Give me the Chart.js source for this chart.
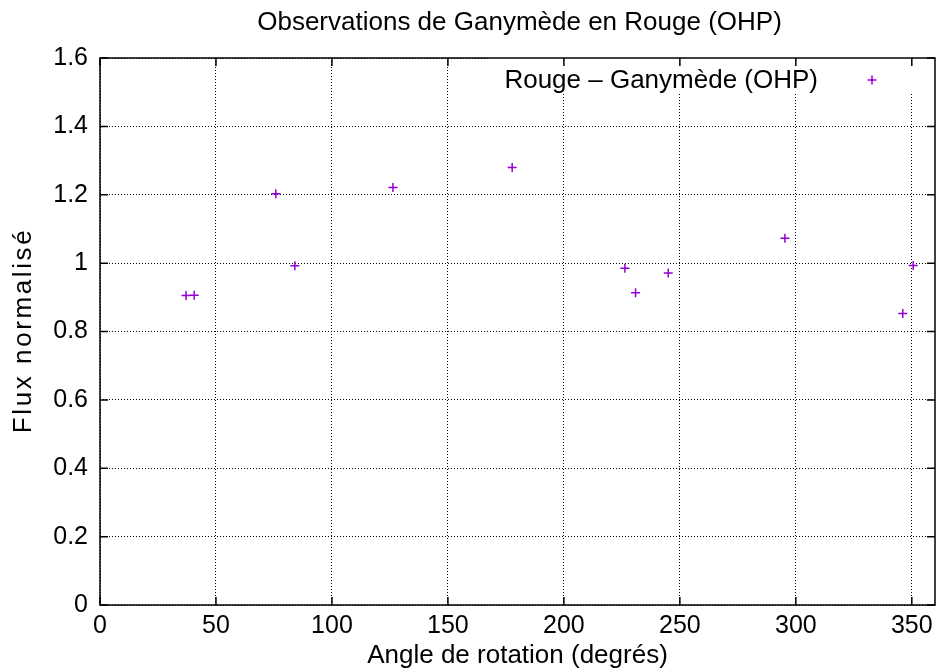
<!DOCTYPE html>
<html>
<head>
<meta charset="utf-8">
<script src="https://cdn.jsdelivr.net/npm/chart.js@4"></script>
<style>
  html, body { margin: 0; padding: 0; background: #fff; }
  #wrap { width: 941px; height: 671px; }
</style>
</head>
<body>
<div id="wrap"><canvas id="chart"></canvas></div>
<script>
// Data
const angles = [37.1, 40.6, 75.8, 84.0, 126.3, 177.7, 226.3, 230.9, 245.0, 295.3, 346.1, 350.6]
const flux = [0.905, 0.906, 1.203, 0.992, 1.221, 1.28, 0.985, 0.913, 0.971, 1.073, 0.853, 0.993]
const xTicks = [0, 50, 100, 150, 200, 250, 300, 350]
const yTicks = [0, 0.2, 0.4, 0.6, 0.8, 1, 1.2, 1.4, 1.6]

const titleText = "Observations de Ganymède en Rouge (OHP)"
const yTitleText = "Flux normalisé"
const seriesLabel = "Rouge \u2013 Ganymède (OHP)"
const purple = "#9400d3"
const fontFamily = "'Liberation Sans', Arial, sans-serif"

Chart.defaults.font.family = fontFamily
Chart.defaults.color = "#000"

// gnuplot-like frame: title, border box, inward ticks, key in the top right corner
const gnuplotFrame = {
  id: "gnuplotFrame",
  beforeDatasetsDraw(chart) {
    const { ctx, chartArea: a } = chart
    // the key hides the grid behind it
    ctx.save()
    ctx.fillStyle = "#fff"
    ctx.fillRect(490, a.top, a.right - 490, 92 - a.top)
    ctx.restore()
  },
  afterDraw(chart) {
    const { ctx, chartArea: a, scales } = chart
    ctx.save()
    // title centred over the plot
    ctx.fillStyle = "#000"
    ctx.font = "26px " + fontFamily
    ctx.textAlign = "center"
    ctx.textBaseline = "middle"
    ctx.fillText(titleText, (a.left + a.right) / 2 + 2, 23)

    // y axis title, rotated, a bit spread out like the original
    ctx.save()
    ctx.translate(24, (a.top + a.bottom) / 2 - 1)
    ctx.rotate(-Math.PI / 2)
    ctx.font = "26px " + fontFamily
    if ("letterSpacing" in ctx) ctx.letterSpacing = "2.6px"
    ctx.fillText(yTitleText, 0, 0)
    ctx.restore()

    // border
    ctx.strokeStyle = "#000"
    ctx.lineWidth = 1.5
    ctx.strokeRect(a.left, a.top, a.right - a.left, a.bottom - a.top)

    // inward ticks on all four sides
    const len = 8
    ctx.beginPath()
    xTicks.forEach((v) => {
      const x = scales.x.getPixelForValue(v)
      ctx.moveTo(x, a.bottom)
      ctx.lineTo(x, a.bottom - len)
      ctx.moveTo(x, a.top)
      ctx.lineTo(x, a.top + len)
    })
    yTicks.forEach((v) => {
      const y = scales.y.getPixelForValue(v)
      ctx.moveTo(a.left, y)
      ctx.lineTo(a.left + len, y)
      ctx.moveTo(a.right, y)
      ctx.lineTo(a.right - len, y)
    })
    ctx.stroke()

    // key
    ctx.font = "26px " + fontFamily
    ctx.textAlign = "right"
    ctx.textBaseline = "middle"
    ctx.fillText(chart.data.datasets[0].label, 818, 81)
    ctx.strokeStyle = purple
    ctx.lineWidth = 1.5
    ctx.beginPath()
    ctx.moveTo(872 - 4.5, 80)
    ctx.lineTo(872 + 4.5, 80)
    ctx.moveTo(872, 80 - 4.5)
    ctx.lineTo(872, 80 + 4.5)
    ctx.stroke()
    ctx.restore()
  },
}

const gridStyle = {
  color: "#000",
  lineWidth: 1,
  drawTicks: false,
}

const chart = new Chart(document.getElementById("chart"), {
  type: "scatter",
  data: {
    datasets: [
      {
        label: seriesLabel,
        data: angles.map((a, i) => ({ x: a, y: flux[i] })),
        pointStyle: "cross",
        pointRadius: 4.5,
        pointBorderWidth: 1.5,
        borderColor: purple,
        backgroundColor: purple,
      },
    ],
  },
  plugins: [gnuplotFrame],
  options: {
    responsive: true,
    maintainAspectRatio: false,
    animation: false,
    layout: { padding: { top: 58, right: 6, left: 0, bottom: 0 } },
    plugins: {
      legend: { display: false },
      title: { display: false },
      tooltip: { enabled: false },
    },
    scales: {
      x: {
        type: "linear",
        min: 0,
        max: 360,
        afterBuildTicks: (s) => { s.ticks = xTicks.map((v) => ({ value: v })) },
        afterFit: (s) => { s.height = 66 },
        grid: gridStyle,
        border: { display: false, dash: [1, 2] },
        ticks: { padding: 6, font: { size: 25 }, maxRotation: 0 },
        title: {
          display: true,
          text: "Angle de rotation (degrés)",
          font: { size: 26 },
          padding: { top: 0, bottom: 0 },
        },
      },
      y: {
        min: 0,
        max: 1.6,
        afterBuildTicks: (s) => { s.ticks = yTicks.map((v) => ({ value: v })) },
        afterFit: (s) => { s.width = 100 },
        grid: gridStyle,
        border: { display: false, dash: [1, 2] },
        ticks: {
          padding: 12,
          font: { size: 25 },
          callback: (v) => String(+v.toFixed(1)),
        },
        title: { display: false },
      },
    },
  },
})
</script>
</body>
</html>
